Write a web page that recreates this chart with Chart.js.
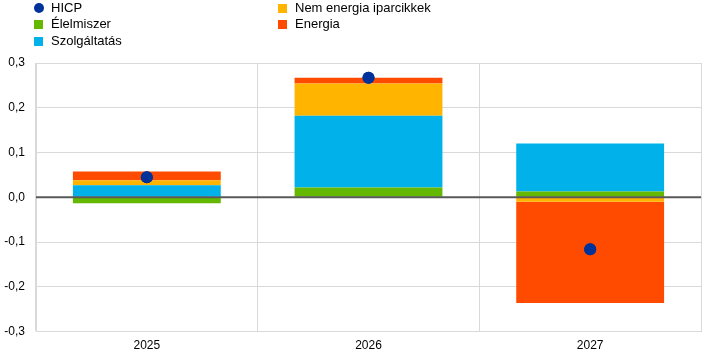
<!DOCTYPE html>
<html>
<head>
<meta charset="utf-8">
<script src="https://cdn.jsdelivr.net/npm/chart.js@4/dist/chart.umd.min.js"></script>
<style>
  html, body { margin: 0; padding: 0; background: #fff; }
  #wrap { position: relative; width: 710px; height: 358px; }
  canvas { position: absolute; left: 0; top: 0; }
  .lg { position: absolute; font-family: "Liberation Sans", Arial, sans-serif; font-size: 13px; color: #000; line-height: 16px; white-space: nowrap; }
  .mk { position: absolute; }
</style>
</head>
<body>
<div id="wrap">
  <canvas id="c" width="710" height="358"></canvas>
  <div id="legend"></div>
</div>
<script>
const categories = ['2025', '2026', '2027'];
const hicp = [0.045, 0.267, -0.116];
const food = [-0.013, 0.022, 0.013];
const services = [0.027, 0.160, 0.107];
const neig = [0.011, 0.072, -0.010];
const energy = [0.020, 0.013, -0.226];
const yTicks = [-0.3, -0.2, -0.1, 0.0, 0.1, 0.2, 0.3];

const names = {
  hicp: 'HICP',
  food: 'Élelmiszer',
  services: 'Szolgáltatás',
  neig: 'Nem energia iparcikkek',
  energy: 'Energia'
};
const colors = {
  hicp: '#003299',
  food: '#65B800',
  services: '#00B1EA',
  neig: '#FFB400',
  energy: '#FF4B00'
};

// HTML legend (two columns, column-major)
const legendItems = [
  { key: 'hicp', col: 0, row: 0, dot: true },
  { key: 'food', col: 0, row: 1 },
  { key: 'services', col: 0, row: 2 },
  { key: 'neig', col: 1, row: 0 },
  { key: 'energy', col: 1, row: 1 }
];
const legend = document.getElementById('legend');
const colX = [34, 278];
const rowY = [8.3, 24.3, 41];
legendItems.forEach(it => {
  const mk = document.createElement('div');
  mk.className = 'mk';
  const cx = colX[it.col];
  const cy = rowY[it.row];
  if (it.dot) {
    mk.style.left = (cx - 0.5) + 'px';
    mk.style.top = (cy - 5) + 'px';
    mk.style.width = '10px';
    mk.style.height = '10px';
    mk.style.borderRadius = '50%';
  } else {
    mk.style.left = cx + 'px';
    mk.style.top = (cy - 4.5) + 'px';
    mk.style.width = '9px';
    mk.style.height = '9px';
  }
  mk.style.background = colors[it.key];
  legend.appendChild(mk);
  const t = document.createElement('div');
  t.className = 'lg';
  t.style.left = (cx + 17) + 'px';
  t.style.top = (cy - 8) + 'px';
  t.textContent = names[it.key];
  legend.appendChild(t);
});

const zeroLine = {
  id: 'zeroLine',
  afterDatasetsDraw(chart) {
    const y = chart.scales.y.getPixelForValue(0);
    const a = chart.chartArea;
    const ctx = chart.ctx;
    ctx.save();
    ctx.strokeStyle = '#595959';
    ctx.lineWidth = 2;
    ctx.beginPath();
    ctx.moveTo(a.left, y);
    ctx.lineTo(a.right, y);
    ctx.stroke();
    // redraw HICP dots on top of the zero line
    const meta = chart.getDatasetMeta(0);
    meta.data.forEach(p => {
      ctx.fillStyle = colors.hicp;
      ctx.beginPath();
      ctx.arc(p.x, p.y, 6, 0, Math.PI * 2);
      ctx.fill();
    });
    ctx.restore();
  }
};

const barDs = (key, data) => ({
  type: 'bar',
  label: names[key],
  data: data,
  backgroundColor: colors[key],
  borderWidth: 0,
  stack: 'comp',
  order: 1,
  categoryPercentage: 1.0,
  barPercentage: 0.667
});

new Chart(document.getElementById('c'), {
  data: {
    labels: categories,
    datasets: [
      {
        type: 'line',
        label: names.hicp,
        data: hicp,
        showLine: false,
        pointRadius: 6,
        pointHoverRadius: 6,
        pointBackgroundColor: colors.hicp,
        pointBorderWidth: 0,
        borderColor: colors.hicp,
        stack: 'hicp',
        order: 0
      },
      barDs('food', food),
      barDs('services', services),
      barDs('neig', neig),
      barDs('energy', energy)
    ]
  },
  options: {
    responsive: false,
    animation: false,
    devicePixelRatio: 1,
    layout: { padding: { top: 63, right: 9, left: 0, bottom: 0 } },
    plugins: { legend: { display: false }, tooltip: { enabled: false } },
    scales: {
      x: {
        stacked: true,
        offset: true,
        grid: { offset: true, color: '#d9d9d9', lineWidth: 1, drawTicks: false },
        border: { color: '#d9d9d9', width: 1 },
        ticks: { color: '#000', font: { family: 'Liberation Sans', size: 12 }, padding: 7 },
        afterFit(s) { s.height = 26.3; }
      },
      y: {
        stacked: true,
        min: -0.3,
        max: 0.3,
        afterBuildTicks(s) { s.ticks = yTicks.map(v => ({ value: v })); },
        grid: { color: '#d9d9d9', lineWidth: 1, drawTicks: false },
        border: { color: '#d9d9d9', width: 1 },
        ticks: {
          color: '#000',
          font: { family: 'Liberation Sans', size: 12 },
          padding: 11,
          callback: v => v.toFixed(1).replace('.', ',').replace('-0,0', '0,0')
        },
        afterFit(s) { s.width = 36; }
      }
    }
  },
  plugins: [zeroLine]
});
</script>
</body>
</html>
